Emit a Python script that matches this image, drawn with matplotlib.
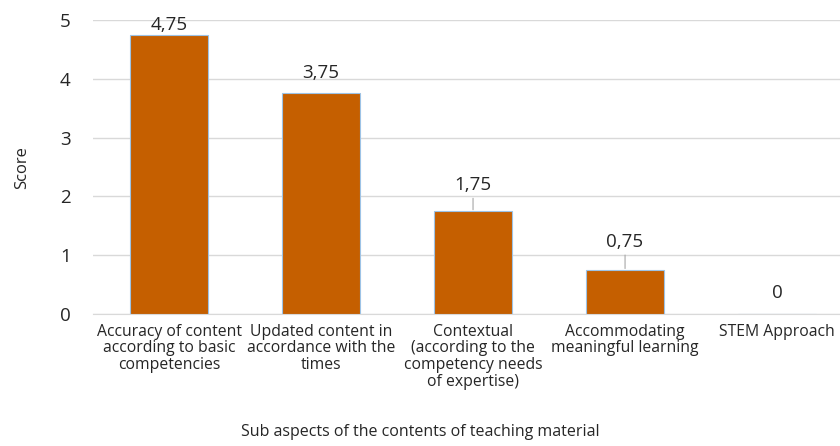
import numpy as np
import matplotlib
matplotlib.use("Agg")
import matplotlib.pyplot as plt

plt.rcParams["font.family"] = ["Open Sans", "DejaVu Sans"]

# chart data
categories = [
    "Accuracy of content\naccording to basic\ncompetencies",
    "Updated content in\naccordance with the\ntimes",
    "Contextual\n(according to the\ncompetency needs\nof expertise)",
    "Accommodating\nmeaningful learning",
    "STEM Approach",
]
scores = [4.75, 3.75, 1.75, 0.75, 0]
value_labels = ["4,75", "3,75", "1,75", "0,75", "0"]

fig = plt.figure(figsize=(8.4, 4.46), dpi=100)
ax = fig.add_axes([93 / 840, 132 / 446, 747 / 840, 294 / 446])

x = np.arange(len(categories))
bars = ax.bar(x, scores, width=0.513, color="#C55F00", edgecolor="#9DC3E6",
              linewidth=0.8, zorder=3)

# value labels, some with small leader lines like the original
offsets = [10, 20, 26, 28, 21]
leaders = [False, False, True, True, False]
for xi, val, lab, off, lead in zip(x, scores, value_labels, offsets, leaders):
    props = dict(arrowstyle="-", color="#A6A6A6", lw=0.8, shrinkA=1, shrinkB=1) if lead else None
    ax.annotate(lab, xy=(xi, val), xytext=(0, off), textcoords="offset pixels",
                ha="center", va="center", fontsize=13.5, color="#262626",
                arrowprops=props)

ax.set_xlim(-0.5, 4.414)
ax.set_ylim(0, 5)
ax.set_yticks(range(0, 6))
ax.set_xticks(x)
ax.set_xticklabels(categories, fontsize=11.3, color="#262626", linespacing=1.06)
ax.tick_params(axis="both", length=0, colors="#262626")
ax.tick_params(axis="y", labelsize=13.5, pad=16)
ax.tick_params(axis="x", pad=7)
ax.grid(axis="y", color="#D9D9D9", lw=1, zorder=0)
for s in ["top", "right", "left"]:
    ax.spines[s].set_visible(False)
ax.spines["bottom"].set_color("#D9D9D9")

ax.set_ylabel("Score", fontsize=12, color="#262626")
ax.set_xlabel("Sub aspects of the contents of teaching material", fontsize=11.5,
              color="#262626")
ax.xaxis.set_label_coords((420 - 93) / 747, -(424 - 314) / 294)
ax.yaxis.set_label_coords(-(93 - 30) / 747, (314 - 168) / 294)

fig.savefig("out.png", dpi=100)
